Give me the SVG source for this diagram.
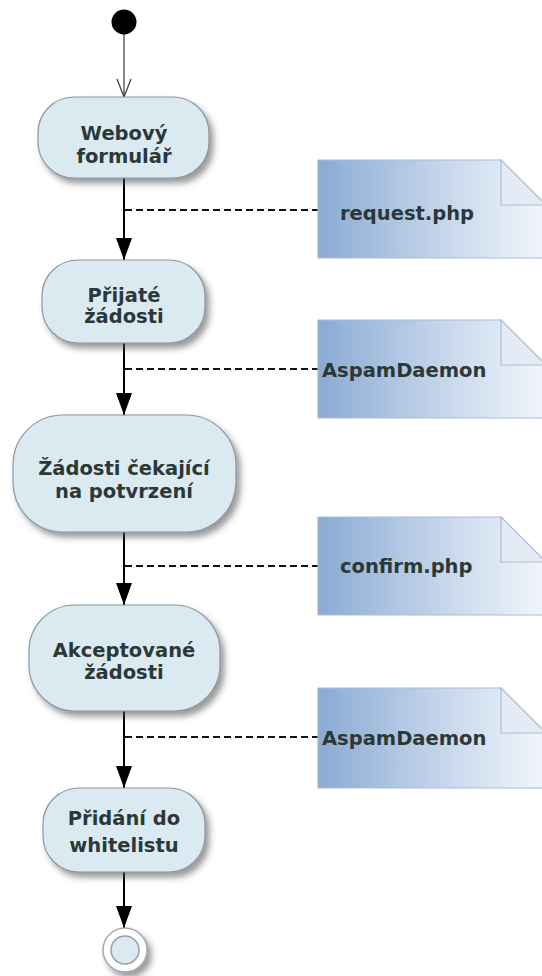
<svg xmlns="http://www.w3.org/2000/svg" width="542" height="976" viewBox="0 0 542 976">
  <defs>
    <filter id="shadow" x="-20%" y="-20%" width="150%" height="160%">
      <feDropShadow dx="4" dy="5" stdDeviation="3" flood-color="#555" flood-opacity="0.6"/>
    </filter>
    <linearGradient id="noteFill" x1="0" y1="0" x2="1" y2="0">
      <stop offset="0" stop-color="#8aaad4"/>
      <stop offset="0.55" stop-color="#c6d6eb"/>
      <stop offset="1" stop-color="#f2f6fb"/>
    </linearGradient>
    <!-- arrowheads are drawn along +x; orient="auto" turns them with the line -->
    <marker id="arrowFilled" viewBox="0 0 22 16" refX="22" refY="8" markerWidth="22" markerHeight="16" markerUnits="userSpaceOnUse" orient="auto">
      <path d="M0,0 L22,8 L0,16 Z" fill="#000"/>
    </marker>
    <marker id="arrowOpen" viewBox="0 0 20 16" refX="19" refY="8" markerWidth="20" markerHeight="16" markerUnits="userSpaceOnUse" orient="auto">
      <path d="M1,1 L19,8 L1,15" fill="none" stroke="#444" stroke-width="1.3"/>
    </marker>
  </defs>
  <style>
    .action { fill: #dbe9f1; stroke: #8c98a4; stroke-width: 1.2; filter: url(#shadow); }
    .label { font-family: "DejaVu Sans", Verdana, sans-serif; font-weight: bold; font-size: 19.5px; fill: #2b3838; text-anchor: middle; }
    .note { fill: url(#noteFill); stroke: #a9bdd8; stroke-width: 1.2; }
    .fold { fill: #e4ebf5; stroke: #a9bdd8; stroke-width: 1.2; }
    .noteText { font-family: "DejaVu Sans", Verdana, sans-serif; font-weight: bold; font-size: 19.5px; fill: #2b3838; }
    .flow { stroke: #000; stroke-width: 2; fill: none; marker-end: url(#arrowFilled); }
    .anchor { stroke: #111; stroke-width: 2; stroke-dasharray: 7 4; fill: none; }
  </style>

  <rect width="542" height="976" fill="#fff"/>

  <!-- control flow and note anchors -->
  <g id="connectors">
    <line x1="124" y1="34" x2="124" y2="97" stroke="#555" stroke-width="1.4" marker-end="url(#arrowOpen)"/>
    <line class="flow" x1="124" y1="178" x2="124" y2="260"/>
    <line class="flow" x1="124" y1="343" x2="124" y2="415"/>
    <line class="flow" x1="124" y1="532" x2="124" y2="605"/>
    <line class="flow" x1="124" y1="711" x2="124" y2="788"/>
    <line class="flow" x1="124" y1="872" x2="124" y2="928"/>
    <line class="anchor" x1="125" y1="210" x2="318" y2="210"/>
    <line class="anchor" x1="125" y1="369" x2="318" y2="369"/>
    <line class="anchor" x1="125" y1="566" x2="318" y2="566"/>
    <line class="anchor" x1="125" y1="737" x2="318" y2="737"/>
  </g>

  <g id="start">
    <circle cx="124" cy="22" r="12.5" fill="#000"/>
  </g>

  <g id="webovy-formular">
    <rect class="action" x="38" y="97" width="171" height="81" rx="36"/>
    <text class="label" x="124" y="140">Webový</text>
    <text class="label" x="124" y="163">formulář</text>
  </g>

  <g id="prijate-zadosti">
    <rect class="action" x="42" y="260" width="163" height="83" rx="36"/>
    <text class="label" x="124" y="302">Přijaté</text>
    <text class="label" x="124" y="323">žádosti</text>
  </g>

  <g id="zadosti-cekajici">
    <rect class="action" x="13" y="415" width="223" height="117" rx="50"/>
    <text class="label" x="124" y="475">Žádosti čekající</text>
    <text class="label" x="124" y="498">na potvrzení</text>
  </g>

  <g id="akceptovane-zadosti">
    <rect class="action" x="29" y="605" width="191" height="106" rx="46"/>
    <text class="label" x="124" y="657">Akceptované</text>
    <text class="label" x="124" y="679">žádosti</text>
  </g>

  <g id="pridani-do-whitelistu">
    <rect class="action" x="43" y="788" width="162" height="84" rx="36"/>
    <text class="label" x="124" y="825">Přidání do</text>
    <text class="label" x="124" y="852">whitelistu</text>
  </g>

  <g id="end">
    <circle cx="125" cy="950" r="22" fill="#fff" stroke="#a8a8b0" stroke-width="1.5" filter="url(#shadow)"/>
    <circle cx="125" cy="950" r="14" fill="#dbe9f1" stroke="#9aa0a8" stroke-width="1.5"/>
  </g>

  <g id="note-request">
    <path class="note" d="M318,160 H501 L546,205 V258 H318 Z"/>
    <path class="fold" d="M501,160 V205 H546 Z"/>
    <text class="noteText" x="340" y="220">request.php</text>
  </g>

  <g id="note-aspam-1">
    <path class="note" d="M318,320 H501 L546,365 V418 H318 Z"/>
    <path class="fold" d="M501,320 V365 H546 Z"/>
    <text class="noteText" x="322" y="377">AspamDaemon</text>
  </g>

  <g id="note-confirm">
    <path class="note" d="M318,517 H501 L546,562 V615 H318 Z"/>
    <path class="fold" d="M501,517 V562 H546 Z"/>
    <text class="noteText" x="340" y="573">confirm.php</text>
  </g>

  <g id="note-aspam-2">
    <path class="note" d="M318,688 H501 L546,733 V788 H318 Z"/>
    <path class="fold" d="M501,688 V733 H546 Z"/>
    <text class="noteText" x="322" y="745">AspamDaemon</text>
  </g>
</svg>
